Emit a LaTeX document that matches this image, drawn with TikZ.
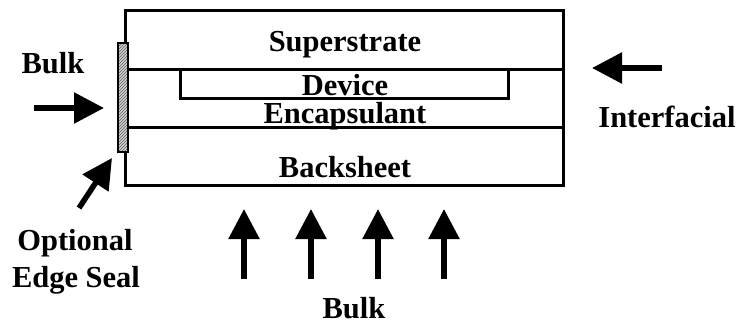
\documentclass[tikz,border=0pt]{standalone}
\usepackage{fontspec}
\setmainfont{Liberation Serif}
\usetikzlibrary{arrows.meta,patterns}
\begin{document}
\begin{tikzpicture}[x=1pt,y=-1pt,
  layer/.style={line width=3pt},
  lbl/.style={anchor=base,inner sep=0pt,font=\fontsize{30.5}{34}\selectfont\bfseries},
  flow/.style={line width=5.5pt,-{Triangle[length=30pt,width=30pt]}}]
\useasboundingbox (0,0) rectangle (740,324);

% module stack
\draw[layer] (125,10) rectangle (563,185);
\draw[layer] (125,69) -- (563,69);
\draw[layer] (125,127) -- (563,127);
\draw[layer] (180,69) rectangle (508,98);

% edge seal strip: hatched core with a dark outline
\node (seal) [line width=2pt,fill=gray!35,
  minimum width=8pt,minimum height=107pt,inner sep=0pt] at (122.5,97.5) {};
\fill[pattern=north east lines,pattern color=gray!70!black] (seal.south west) rectangle (seal.north east);
\draw[line width=2pt] (seal.south west) rectangle (seal.north east);

% layer names
\node (sup) [lbl] at (345,52) {Superstrate};
\node (dev) [lbl] at (345,95) {Device};
\node (enc) [lbl] at (345,123) {Encapsulant};
\node (back) [lbl] at (345,177) {Backsheet};

% side labels
\node (bulkL) [lbl] at (53,73) {Bulk};
\node (opt) [lbl] at (75,250) {Optional};
\node (edge) [lbl] at (76,287) {Edge Seal};
\node (inter) [lbl] at (667,127) {Interfacial};
\node (bulkB) [lbl] at (354,318) {Bulk};

% arrow end points
\coordinate (lT) at (34,108);
\coordinate (lH) at (104,108);
\coordinate (dT) at (79,208);
\coordinate (dH) at (112,158);
\coordinate (rT) at (662,68);
\coordinate (rH) at (592,68);
\foreach \i/\x in {1/244,2/311,3/378,4/444}{
  \coordinate (bT\i) at (\x,279);
  \coordinate (bH\i) at (\x,209);
}

% ingress arrows
\draw[flow] (lT) -- (lH);
\draw[flow] (dT) -- (dH);
\draw[flow] (rT) -- (rH);
\foreach \i in {1,...,4}{
  \draw[flow] (bT\i) -- (bH\i);
}
\end{tikzpicture}
\end{document}
